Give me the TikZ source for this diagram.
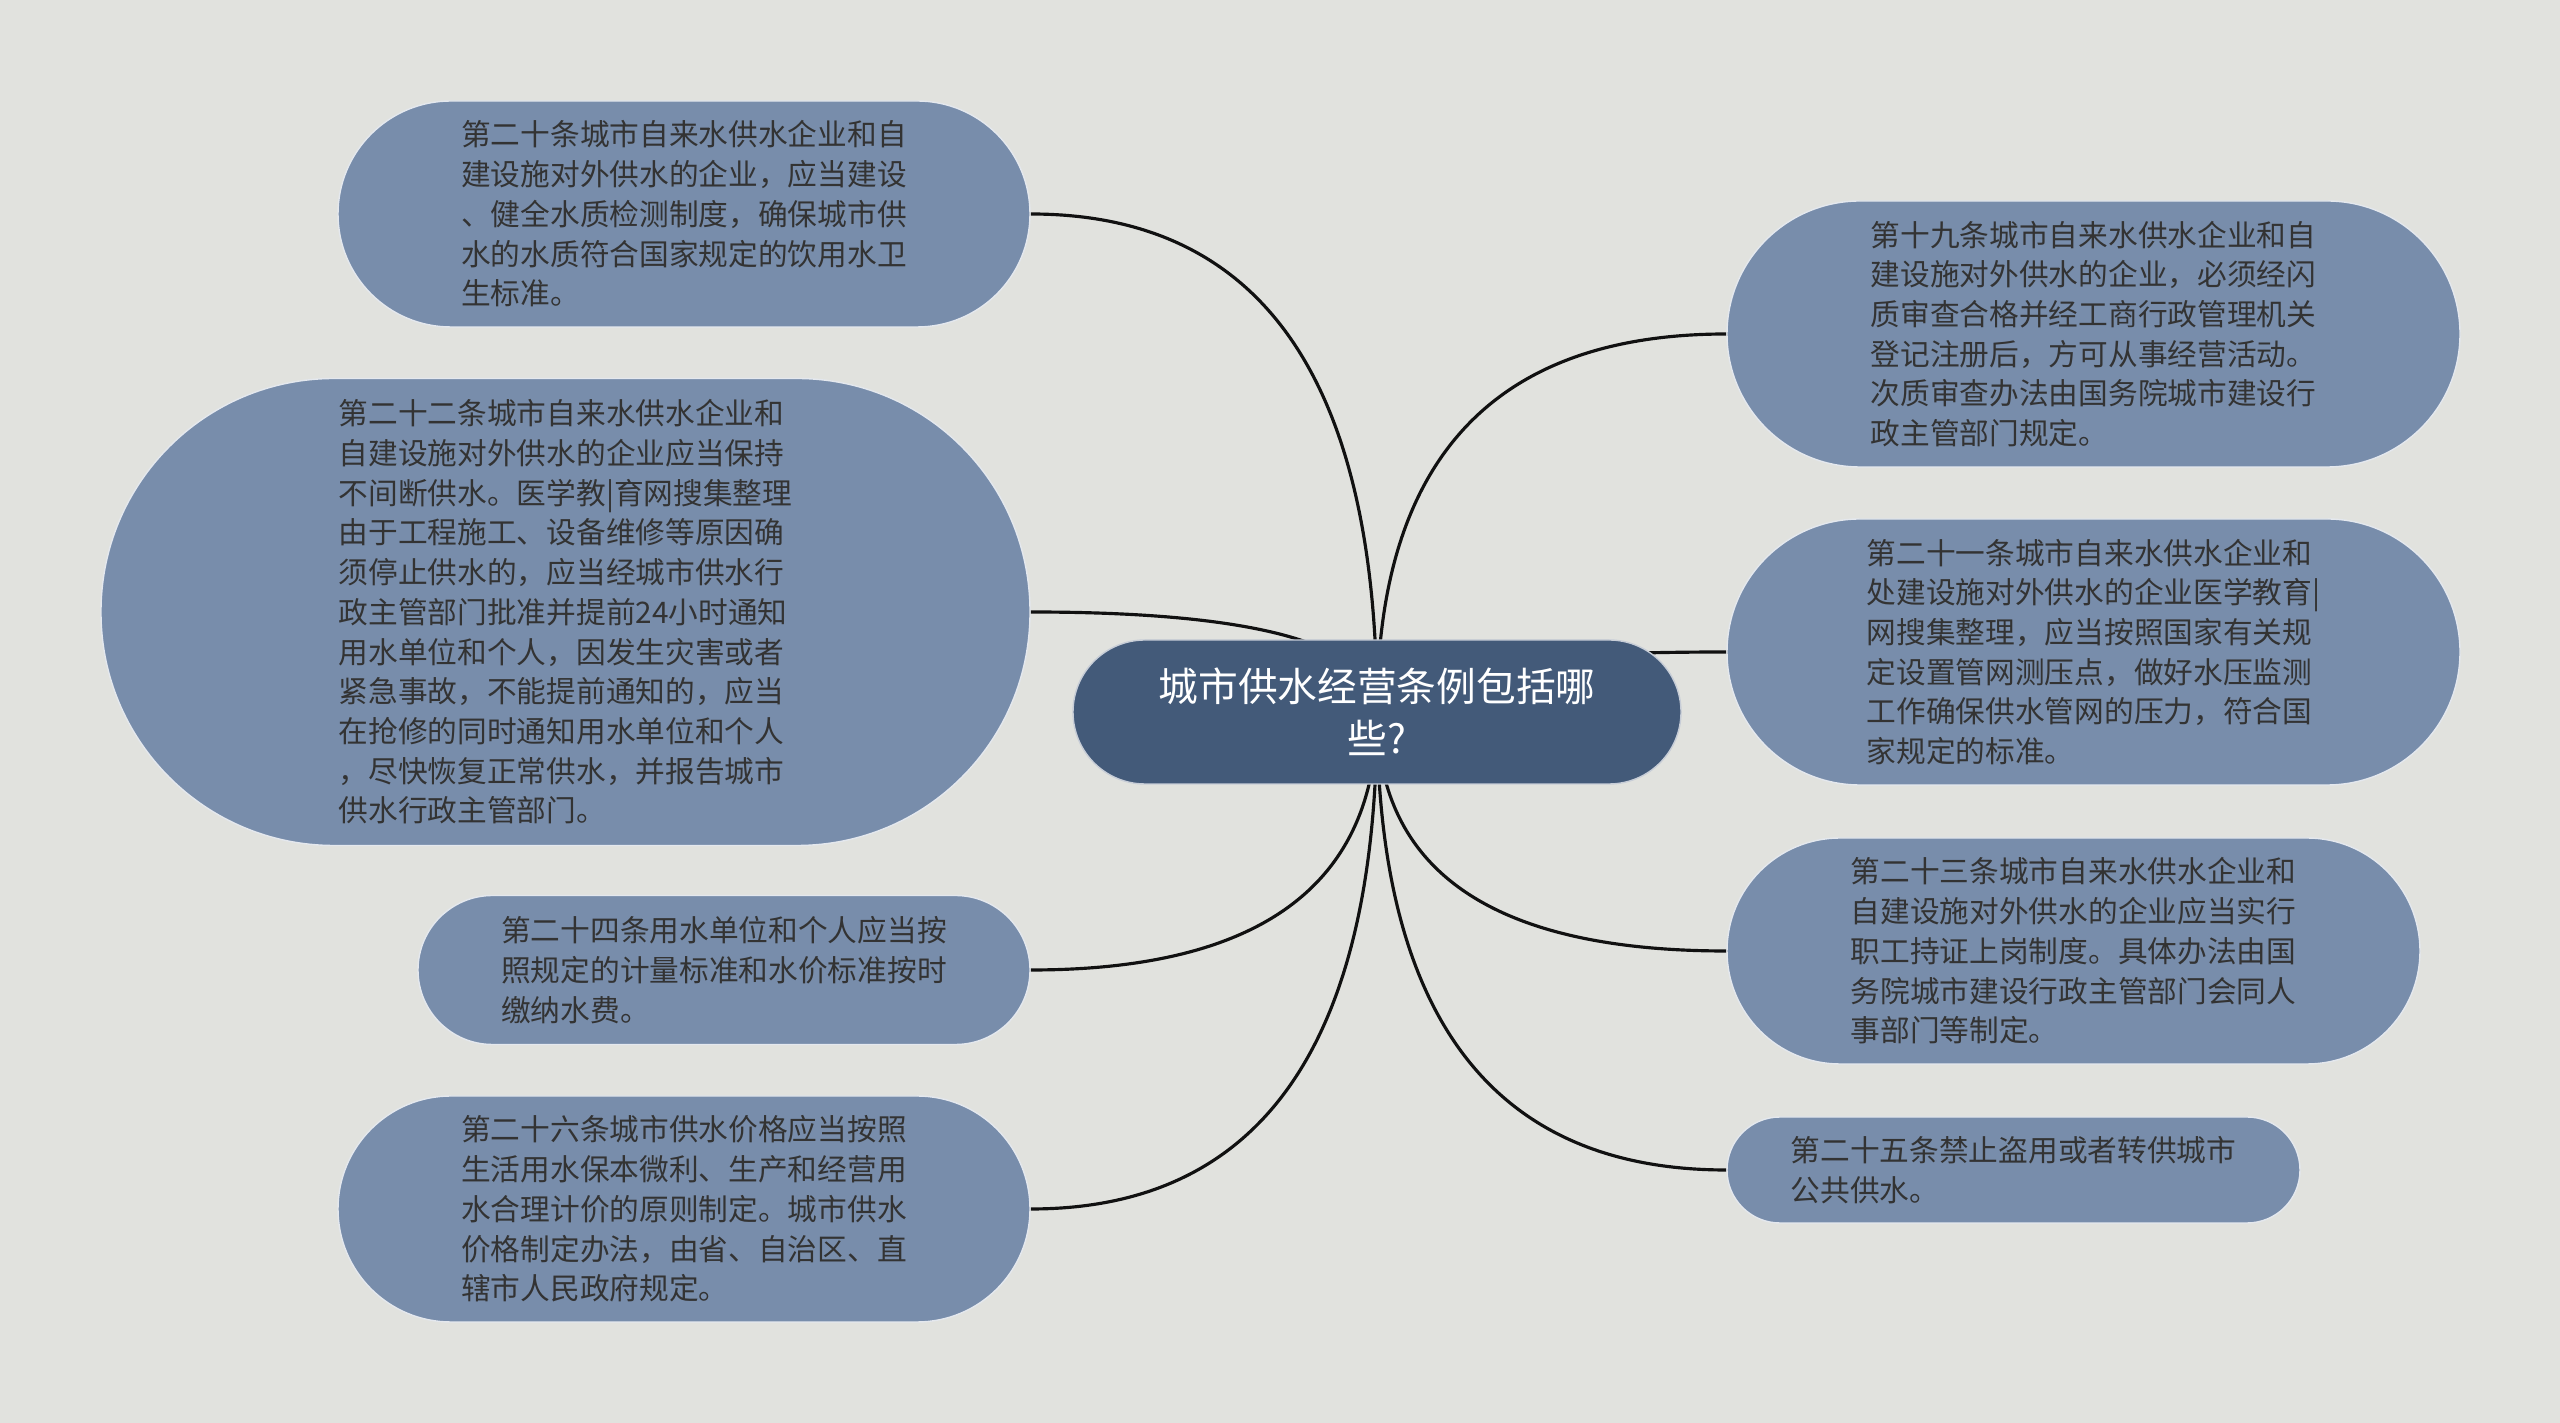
\documentclass[tikz,border=0pt]{standalone}
\usepackage{fontspec}
\setmainfont{Noto Sans CJK SC}
\usetikzlibrary{calc,backgrounds}
\definecolor{bgcol}{HTML}{E1E2DE}
\definecolor{leafcol}{HTML}{788DAB}
\definecolor{rootcol}{HTML}{435A79}
\definecolor{txtcol}{HTML}{333333}
\definecolor{linecol}{HTML}{111111}

\begin{document}
\begin{tikzpicture}
		\tikzstyle{leaf}=[rectangle,fill=leafcol,draw=white!80!leafcol,line width=0.4pt,
						text=txtcol,inner sep=0pt,align=left,font=\fontsize{8.45pt}{11.3pt}\selectfont]
		\tikzstyle{topic}=[rectangle,fill=rootcol,draw=white!70!rootcol,line width=0.4pt,
						text=white,inner sep=0pt,align=center,font=\fontsize{11.3pt}{14.7pt}\selectfont]
		\tikzstyle{branch}=[draw=linecol,line width=0.9pt]

		\useasboundingbox (0,0) rectangle (25.6,14.23);

		% root
		\node[topic,minimum width=6.08cm,minimum height=1.44cm,rounded corners=0.72cm] (root) at (13.77,7.11) {城市供水经营条例包括哪\\些?};

		% left side
		\node[leaf,minimum width=6.92cm,minimum height=2.26cm,rounded corners=1.13cm] (n20) at (6.84,12.09) {第二十条城市自来水供水企业和自\\建设施对外供水的企业，应当建设\\、健全水质检测制度，确保城市供\\水的水质符合国家规定的饮用水卫\\生标准。};
		\node[leaf,minimum width=9.29cm,minimum height=4.67cm,rounded corners=2.33cm] (n22) at (5.655,8.11) {第二十二条城市自来水供水企业和\\自建设施对外供水的企业应当保持\\不间断供水。医学教|育网搜集整理\\由于工程施工、设备维修等原因确\\须停止供水的，应当经城市供水行\\政主管部门批准并提前24小时通知\\用水单位和个人，因发生灾害或者\\紧急事故，不能提前通知的，应当\\在抢修的同时通知用水单位和个人\\，尽快恢复正常供水，并报告城市\\供水行政主管部门。};
		\node[leaf,minimum width=6.12cm,minimum height=1.49cm,rounded corners=0.745cm] (n24) at (7.24,4.53) {第二十四条用水单位和个人应当按\\照规定的计量标准和水价标准按时\\缴纳水费。};
		\node[leaf,minimum width=6.92cm,minimum height=2.26cm,rounded corners=1.13cm] (n26) at (6.84,2.14) {第二十六条城市供水价格应当按照\\生活用水保本微利、生产和经营用\\水合理计价的原则制定。城市供水\\价格制定办法，由省、自治区、直\\辖市人民政府规定。};

		% right side
		\node[leaf,minimum width=7.33cm,minimum height=2.66cm,rounded corners=1.33cm] (n19) at (20.935,10.89) {第十九条城市自来水供水企业和自\\建设施对外供水的企业，必须经闪\\质审查合格并经工商行政管理机关\\登记注册后，方可从事经营活动。\\次质审查办法由国务院城市建设行\\政主管部门规定。};
		\node[leaf,minimum width=7.33cm,minimum height=2.66cm,rounded corners=1.33cm] (n21) at (20.935,7.71) {第二十一条城市自来水供水企业和\\处建设施对外供水的企业医学教育|\\网搜集整理，应当按照国家有关规\\定设置管网测压点，做好水压监测\\工作确保供水管网的压力，符合国\\家规定的标准。};
		\node[leaf,minimum width=6.93cm,minimum height=2.26cm,rounded corners=1.13cm] (n23) at (20.735,4.72) {第二十三条城市自来水供水企业和\\自建设施对外供水的企业应当实行\\职工持证上岗制度。具体办法由国\\务院城市建设行政主管部门会同人\\事部门等制定。};
		\node[leaf,minimum width=5.73cm,minimum height=1.06cm,rounded corners=0.53cm] (n25) at (20.135,2.53) {第二十五条禁止盗用或者转供城市\\公共供水。};

		% branches
		\begin{scope}[on background layer]
			\fill[bgcol] (0,0) rectangle (25.6,14.23);
			\foreach \name/\side in {n20/east, n22/east, n24/east, n26/east, n19/west, n21/west, n23/west, n25/west}
			{
				\coordinate (bend) at (root.center|-\name.\side);
				\draw[branch] (root.center) .. controls ($(root.center)!0.667!(bend)$) and ($(\name.\side)!0.667!(bend)$) .. (\name.\side);
			}
		\end{scope}

	\end{tikzpicture}
\end{document}
